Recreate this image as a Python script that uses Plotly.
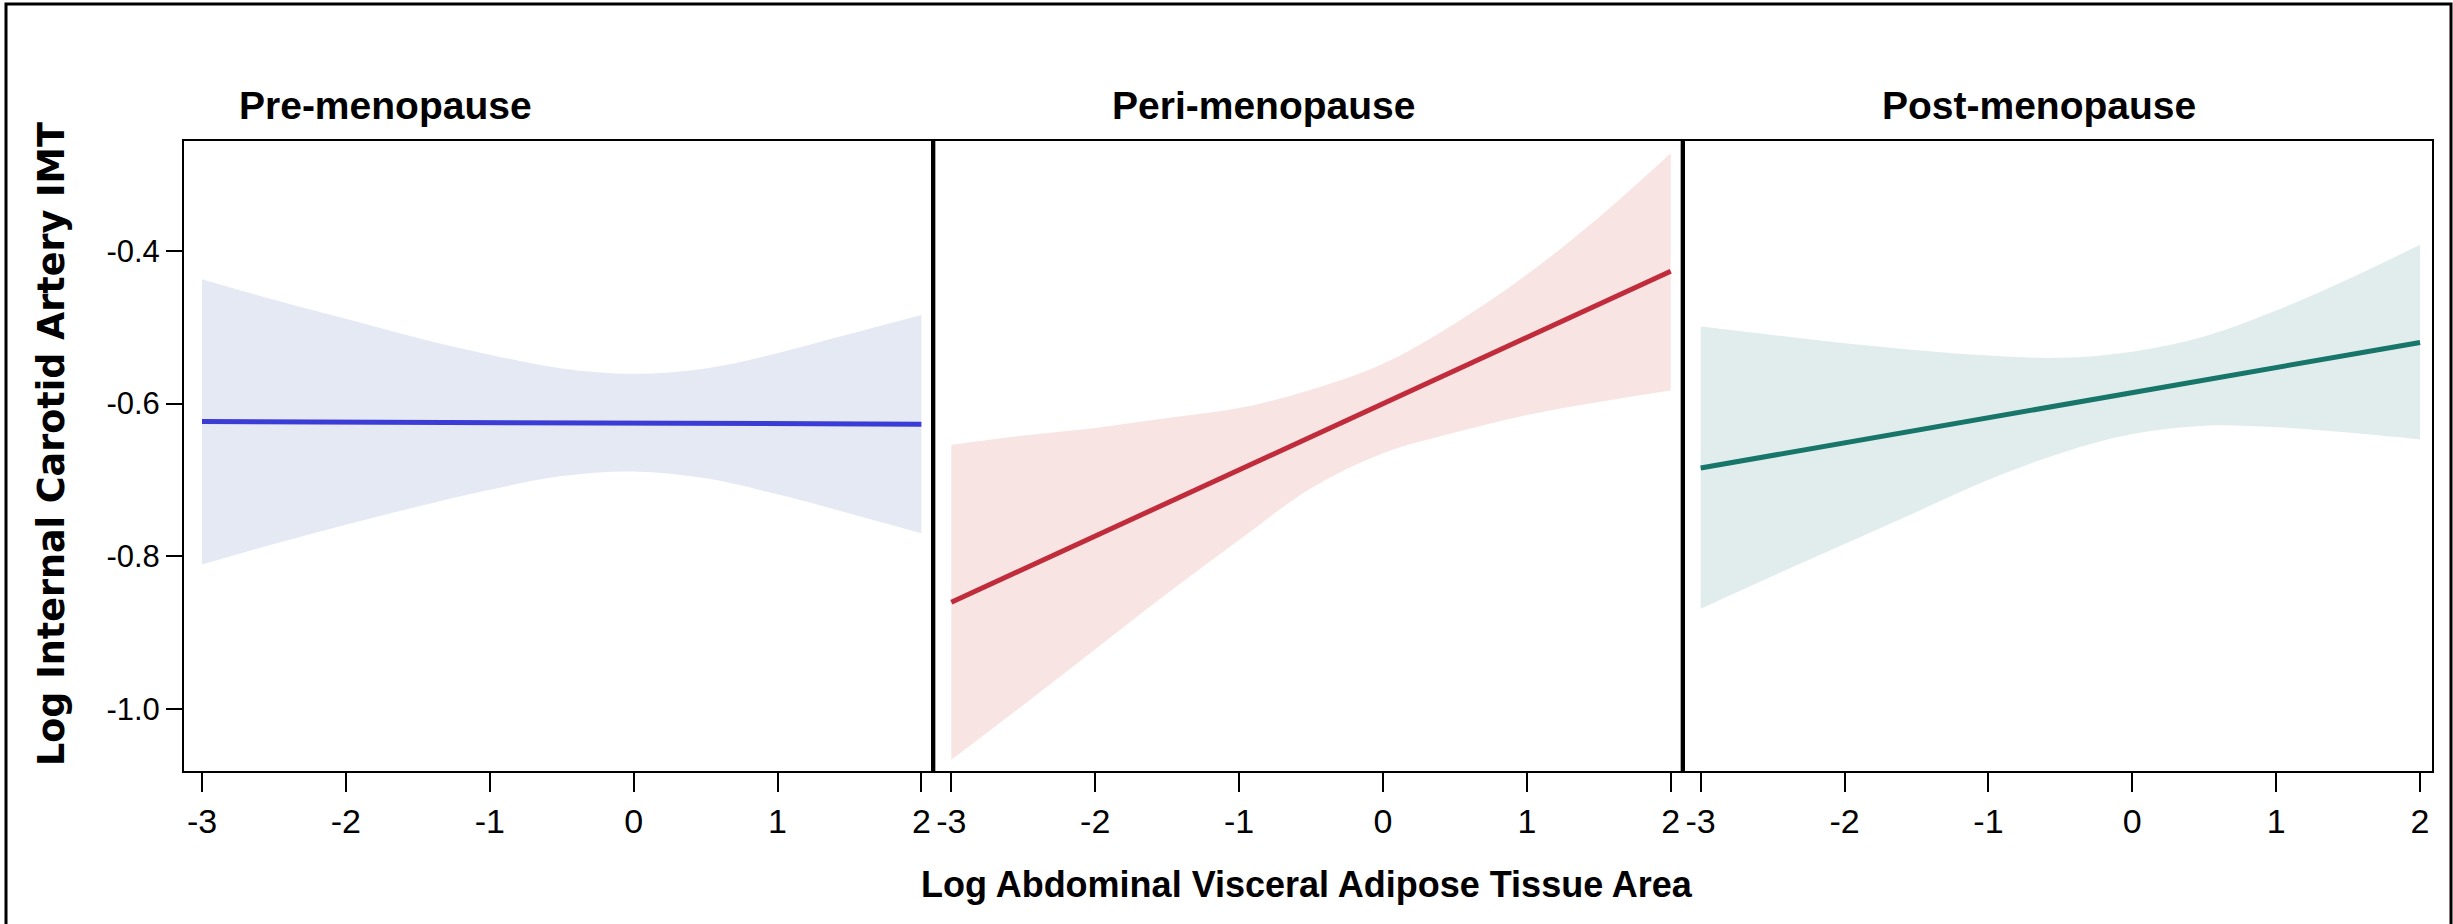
import plotly.graph_objects as go
from plotly.subplots import make_subplots

# ---------------- data ----------------
panels = ["Pre-menopause", "Peri-menopause", "Post-menopause"]
x_grid = [-3, -2.5, -2, -1.5, -1, -0.5, 0, 0.5, 1, 1.5, 2]
fit_x = [-3, 2]

pre_fit = [-0.6236, -0.627]
pre_upper = [-0.437, -0.464, -0.489, -0.514, -0.536, -0.554, -0.561, -0.554, -0.534, -0.509, -0.484]
pre_lower = [-0.811, -0.784, -0.759, -0.735, -0.713, -0.695, -0.689, -0.698, -0.719, -0.744, -0.770]

peri_fit = [-0.8605, -0.4266]
peri_upper = [-0.654, -0.642, -0.632, -0.619, -0.606, -0.582, -0.548, -0.495, -0.431, -0.356, -0.272]
peri_lower = [-1.067, -0.995, -0.922, -0.849, -0.779, -0.711, -0.665, -0.638, -0.615, -0.598, -0.583]

post_fit = [-0.6844, -0.5199]
post_upper = [-0.499, -0.510, -0.521, -0.530, -0.537, -0.540, -0.532, -0.512, -0.478, -0.437, -0.392]
post_lower = [-0.869, -0.826, -0.784, -0.742, -0.700, -0.665, -0.640, -0.629, -0.631, -0.638, -0.647]

x_ticks = [-3, -2, -1, 0, 1, 2]
x_tick_text = ["-3", "-2", "-1", "0", "1", "2"]
y_ticks = [-1.0, -0.8, -0.6, -0.4]
y_tick_text = ["-1.0", "-0.8", "-0.6", "-0.4"]

x_title = "Log Abdominal Visceral Adipose Tissue Area"
y_title = "Log Internal Carotid Artery IMT"

line_colors = ["#3b3bd6", "#c02c3b", "#17756a"]
band_colors = ["#e5e9f4", "#f8e5e3", "#e0edec"]

fits = [pre_fit, peri_fit, post_fit]
uppers = [pre_upper, peri_upper, post_upper]
lowers = [pre_lower, peri_lower, post_lower]

# ---------------- layout geometry ----------------
W, H = 2453, 924
L, R, T, B = 184, 21, 141, 153
PW = W - L - R
PH = H - T - B


def px_x(p):
    return (p - L) / PW


def px_y(p):
    return (H - B - p) / PH


X_RANGE = [-3.125, 2.083]
Y_RANGE = [-1.0816, -0.2559]

fig = make_subplots(rows=1, cols=3, horizontal_spacing=0, shared_yaxes=True)

for i in range(3):
    col = i + 1
    fig.add_trace(go.Scatter(x=x_grid, y=lowers[i], mode="lines",
                             line=dict(width=0, shape="spline", color=band_colors[i]),
                             showlegend=False, hoverinfo="skip"), row=1, col=col)
    fig.add_trace(go.Scatter(x=x_grid, y=uppers[i], mode="lines",
                             line=dict(width=0, shape="spline", color=band_colors[i]),
                             fill="tonexty", fillcolor=band_colors[i],
                             showlegend=False, hoverinfo="skip"), row=1, col=col)
    fig.add_trace(go.Scatter(x=fit_x, y=fits[i], mode="lines",
                             line=dict(width=5, color=line_colors[i]),
                             showlegend=False), row=1, col=col)

axis_common = dict(showline=True, linecolor="black", linewidth=2, mirror=True,
                   showgrid=False, zeroline=False)

for i in range(3):
    col = i + 1
    fig.update_xaxes(range=X_RANGE, tickvals=x_ticks, ticktext=x_tick_text,
                     ticks="outside", ticklen=19, tickwidth=2, tickcolor="black",
                     tickfont=dict(family="Liberation Sans Narrow, Arial Narrow, Liberation Sans, Arial",
                                   size=34, color="black"),
                     row=1, col=col, **axis_common)
    if col == 1:
        fig.update_yaxes(range=Y_RANGE, tickvals=y_ticks, ticktext=y_tick_text,
                         ticks="outside", ticklen=16, tickwidth=2, tickcolor="black",
                         tickfont=dict(family="Liberation Sans, Arial", size=31, color="black"),
                         row=1, col=col, **axis_common)
    else:
        fig.update_yaxes(range=Y_RANGE, showticklabels=False, ticks="",
                         row=1, col=col, **axis_common)

shapes = []
# thick panel dividers
for k in (1, 2):
    xd = k / 3
    shapes.append(dict(type="line", xref="paper", yref="paper", x0=xd, x1=xd, y0=0, y1=1,
                       line=dict(color="black", width=4)))
# outer border
shapes.append(dict(type="rect", xref="paper", yref="paper",
                   x0=px_x(6), x1=px_x(2451), y0=px_y(940), y1=px_y(4),
                   line=dict(color="black", width=3), fillcolor="rgba(0,0,0,0)", layer="above"))

annotations = []
title_left_px = [237, 1110, 1880]
for i, name in enumerate(panels):
    annotations.append(dict(text="<b>%s</b>" % name, xref="paper", yref="paper",
                            x=px_x(title_left_px[i]), y=px_y(106), xanchor="left", yanchor="middle",
                            showarrow=False,
                            font=dict(family="Liberation Sans, Arial", size=39, color="black")))
annotations.append(dict(text="<b>%s</b>" % x_title, xref="paper", yref="paper",
                        x=px_x(1307), y=px_y(884), xanchor="center", yanchor="middle",
                        showarrow=False,
                        font=dict(family="Liberation Sans, Arial", size=36, color="black")))
annotations.append(dict(text="<b>%s</b>" % y_title, xref="paper", yref="paper",
                        x=px_x(51), y=px_y(444), xanchor="center", yanchor="middle",
                        textangle=-90, showarrow=False,
                        font=dict(family="DejaVu Sans", size=36.5, color="black")))

fig.update_layout(width=W, height=H, margin=dict(l=L, r=R, t=T, b=B),
                  paper_bgcolor="white", plot_bgcolor="white",
                  shapes=shapes, annotations=annotations, showlegend=False)

fig.write_html("out.html")
